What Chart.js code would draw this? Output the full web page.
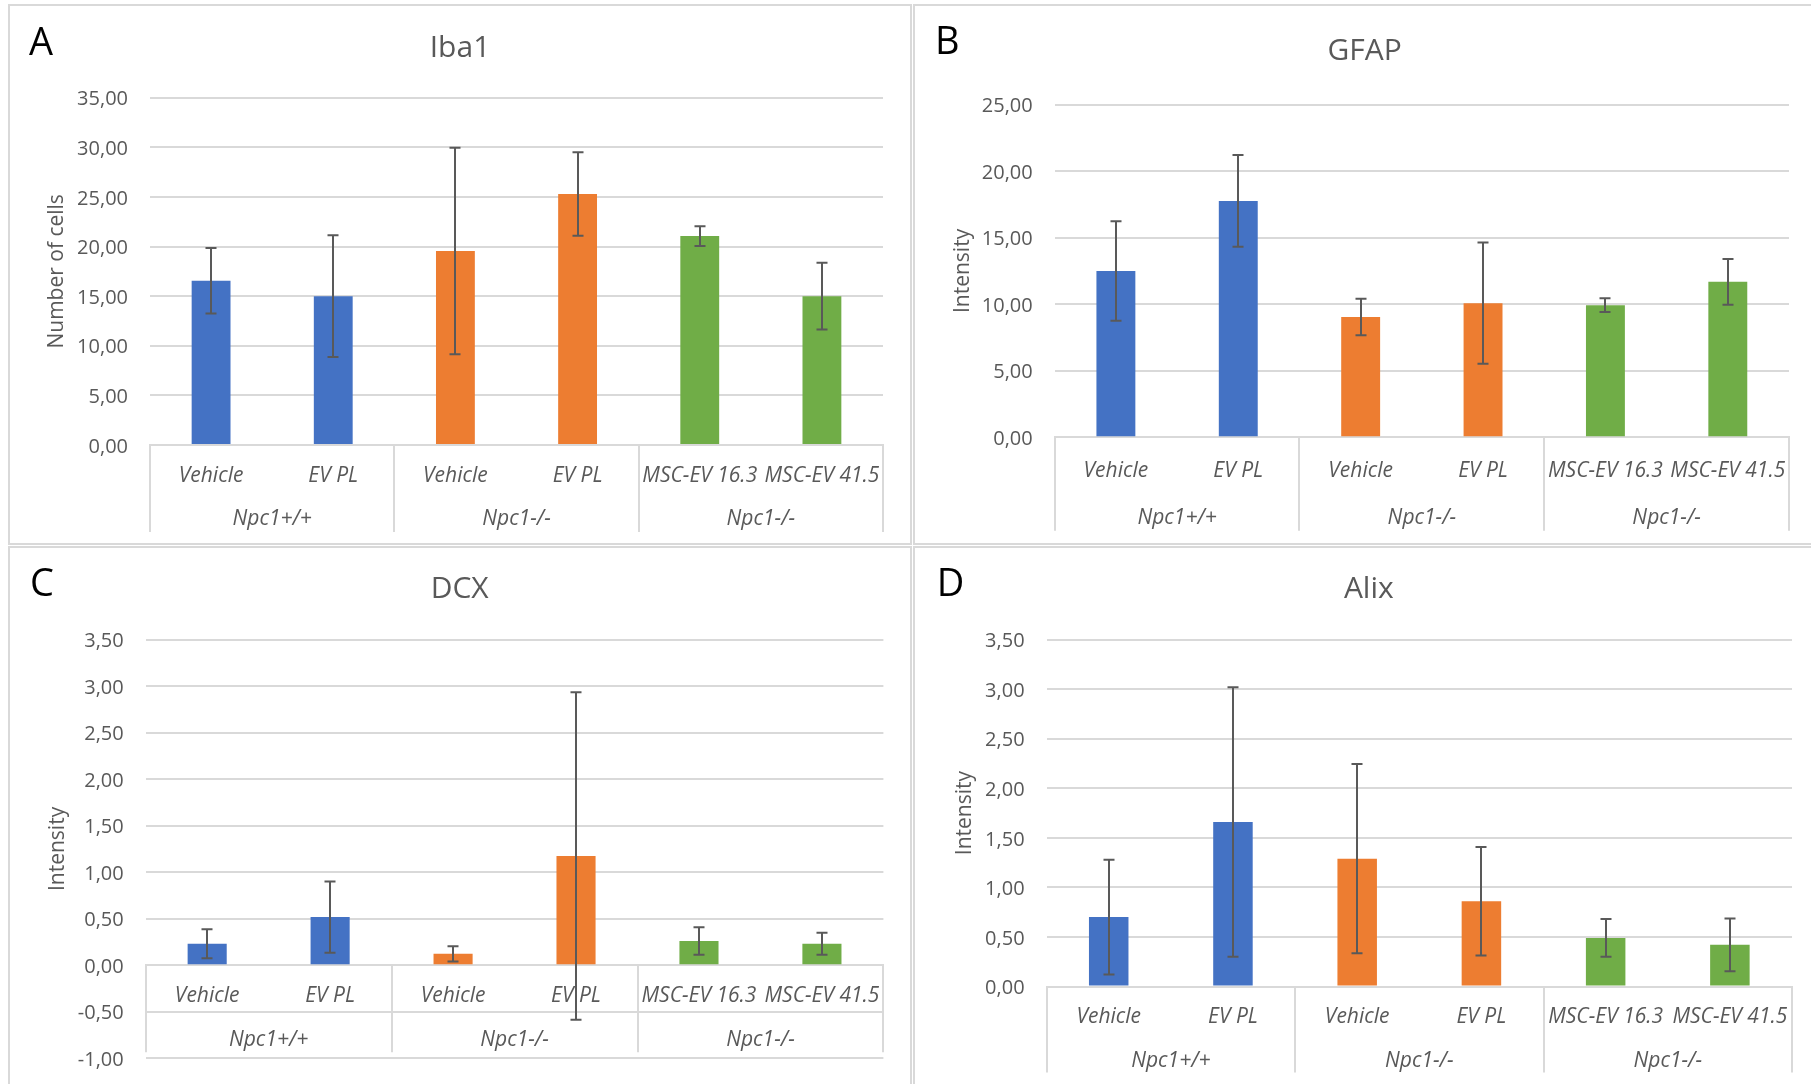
<!DOCTYPE html>
<html>
<head>
<meta charset="utf-8">
<script src="https://cdn.jsdelivr.net/npm/chart.js@4.4.1/dist/chart.umd.min.js"></script>
<style>
html,body{margin:0;padding:0;background:#fff;width:1811px;height:1084px;overflow:hidden;}
.panel{position:absolute;box-sizing:border-box;border:2px solid #d9d9d9;background:#fff;}
canvas{position:absolute;}
</style>
</head>
<body>
<div class="panel" style="left:8px;top:4px;width:904px;height:541px"></div>
<div class="panel" style="left:913px;top:4px;width:902px;height:541px"></div>
<div class="panel" style="left:8px;top:546px;width:904px;height:545px"></div>
<div class="panel" style="left:913px;top:546px;width:902px;height:545px"></div>
<canvas id="cA" width="900" height="537" style="left:10px;top:6px"></canvas>
<canvas id="cB" width="896" height="537" style="left:915px;top:6px"></canvas>
<canvas id="cC" width="900" height="536" style="left:10px;top:548px"></canvas>
<canvas id="cD" width="896" height="536" style="left:915px;top:548px"></canvas>
<script>
// ---------- data ----------
const categories = ['Vehicle', 'EV PL', 'Vehicle', 'EV PL', 'MSC-EV 16.3', 'MSC-EV 41.5'];
const groups = ['Npc1+/+', 'Npc1-/-', 'Npc1-/-'];
const barColors = ['#4472C4', '#4472C4', '#ED7D31', '#ED7D31', '#70AD47', '#70AD47'];

const iba1Mean = [16.55, 15.0, 19.55, 25.3, 21.05, 15.0];
const iba1Err  = [3.3, 6.13, 10.4, 4.2, 1.0, 3.37];
const gfapMean = [12.49, 17.76, 9.04, 10.08, 9.93, 11.68];
const gfapErr  = [3.74, 3.45, 1.37, 4.55, 0.52, 1.72];
const dcxMean  = [0.231, 0.518, 0.123, 1.174, 0.261, 0.231];
const dcxErr   = [0.157, 0.383, 0.082, 1.76, 0.147, 0.119];
const alixMean = [0.70, 1.66, 1.29, 0.86, 0.49, 0.42];
const alixErr  = [0.58, 1.36, 0.955, 0.548, 0.19, 0.266];

const chartTitles = ['Iba1', 'GFAP', 'DCX', 'Alix'];
const panelLetters = ['A', 'B', 'C', 'D'];
const yTitles = ['Number of cells', 'Intensity', 'Intensity', 'Intensity'];
const yMins = [0, 0, -1, 0];
const yMaxs = [35, 25, 3.5, 3.5];
const ySteps = [5, 5, 0.5, 0.5];

// ---------- styling / layout ----------
const FONT = 'Open Sans';
const TXT = '#595959';
const GRID = '#d9d9d9';

const layouts = [
  {id:'cA', padL:27,   yW:113,   padR:27,   tTop:24.4, tBot:31.3, xH:98,    padB:0,    xPos:'bottom', xPad:18.4, yTP:7.9,  divLen:87,   grpOff:74.5, lx:19,   ly:49},
  {id:'cB', padL:25.4, yW:114.3, padR:22,   tTop:27.8, tBot:34.8, xH:105.7, padB:0,    xPos:'bottom', xPad:21.4, yTP:10,   divLen:93.5, grpOff:81,   lx:20,   ly:48},
  {id:'cC', padL:26,   yW:109.7, padR:26.6, tTop:23.8, tBot:31.8, xH:0,     padB:25.7, xPos:{y:0},    xPad:18.4, yTP:9.4,  divLen:87,   grpOff:74.5, lx:20,   ly:47.5},
  {id:'cD', padL:30.6, yW:101,   padR:19,   tTop:23.8, tBot:31.8, xH:97.5,  padB:0,    xPos:'bottom', xPad:18.2, yTP:6.8,  divLen:86,   grpOff:75,   lx:21.8, ly:47.5}
];
const means = [iba1Mean, gfapMean, dcxMean, alixMean];
const errs = [iba1Err, gfapErr, dcxErr, alixErr];

function fmt(v) { return Number(v).toFixed(2).replace('.', ','); }

function makeDecor(idx, L) {
  return {
    id: 'decor' + idx,
    afterDatasetsDraw(chart) {
      const ctx = chart.ctx, xs = chart.scales.x, ys = chart.scales.y;
      const m = means[idx], e = errs[idx];
      ctx.save();
      // error bars
      ctx.strokeStyle = '#595959';
      ctx.lineWidth = 2;
      const cap = 11;
      m.forEach((v, i) => {
        const px = Math.round(xs.getPixelForValue(i));
        const t = ys.getPixelForValue(v + e[i]);
        const b = ys.getPixelForValue(v - e[i]);
        ctx.beginPath();
        ctx.moveTo(px, t); ctx.lineTo(px, b);
        ctx.moveTo(px - cap / 2, t); ctx.lineTo(px + cap / 2, t);
        ctx.moveTo(px - cap / 2, b); ctx.lineTo(px + cap / 2, b);
        ctx.stroke();
      });
      // group dividers & labels
      const y0 = ys.getPixelForValue(0);
      const half = (xs.getPixelForValue(1) - xs.getPixelForValue(0)) / 2;
      ctx.strokeStyle = GRID;
      ctx.lineWidth = 2;
      for (let g = 0; g <= groups.length; g++) {
        const bx = g < groups.length ? xs.getPixelForValue(2 * g) - half : xs.getPixelForValue(2 * g - 1) + half;
        ctx.beginPath();
        ctx.moveTo(Math.round(bx), y0);
        ctx.lineTo(Math.round(bx), y0 + L.divLen);
        ctx.stroke();
      }
      ctx.fillStyle = TXT;
      ctx.font = 'italic 21px "' + FONT + '"';
      ctx.textAlign = 'center';
      ctx.textBaseline = 'middle';
      groups.forEach((gname, g) => {
        const cx = (xs.getPixelForValue(2 * g) + xs.getPixelForValue(2 * g + 1)) / 2;
        ctx.fillText(gname, cx, y0 + L.grpOff);
      });
      // panel letter
      ctx.fillStyle = '#000';
      ctx.font = '38px "' + FONT + '"';
      ctx.textAlign = 'left';
      ctx.textBaseline = 'alphabetic';
      ctx.fillText(panelLetters[idx], L.lx, L.ly);
      ctx.restore();
    }
  };
}

layouts.forEach((L, idx) => {
  const xScale = {
    type: 'category',
    position: L.xPos,
    grid: {display: false, drawTicks: false},
    border: {display: true, color: GRID, width: 2},
    ticks: {
      color: TXT,
      font: {family: FONT, size: 21, style: 'italic'},
      padding: L.xPad,
      maxRotation: 0, minRotation: 0, autoSkip: false
    }
  };
  if (L.xH) xScale.afterFit = (s) => { s.height = L.xH; };
  new Chart(document.getElementById(L.id), {
    type: 'bar',
    data: {
      labels: categories,
      datasets: [{
        data: means[idx],
        backgroundColor: barColors,
        borderWidth: 0,
        barPercentage: 0.318,
        categoryPercentage: 1
      }]
    },
    options: {
      responsive: false,
      animation: false,
      devicePixelRatio: 1,
      layout: {padding: {left: L.padL, right: L.padR, top: 0, bottom: L.padB}},
      plugins: {
        legend: {display: false},
        tooltip: {enabled: false},
        title: {
          display: true,
          text: chartTitles[idx],
          color: TXT,
          font: {family: FONT, size: 30, weight: 'normal'},
          padding: {top: L.tTop, bottom: L.tBot}
        }
      },
      scales: {
        x: xScale,
        y: {
          min: yMins[idx],
          max: yMaxs[idx],
          ticks: {
            stepSize: ySteps[idx],
            color: TXT,
            font: {family: FONT, size: 20},
            padding: 22,
            labelOffset: 2,
            callback: (v) => fmt(v)
          },
          grid: {color: GRID, lineWidth: 2, drawTicks: false},
          border: {display: false},
          title: {
            display: true,
            text: yTitles[idx],
            color: TXT,
            font: {family: FONT, size: 21},
            padding: {top: L.yTP, bottom: 0}
          },
          afterFit: (s) => { s.width = L.yW; s.paddingTop = 0; s.paddingBottom = 0; }
        }
      }
    },
    plugins: [makeDecor(idx, L)]
  });
});
</script>
</body>
</html>
